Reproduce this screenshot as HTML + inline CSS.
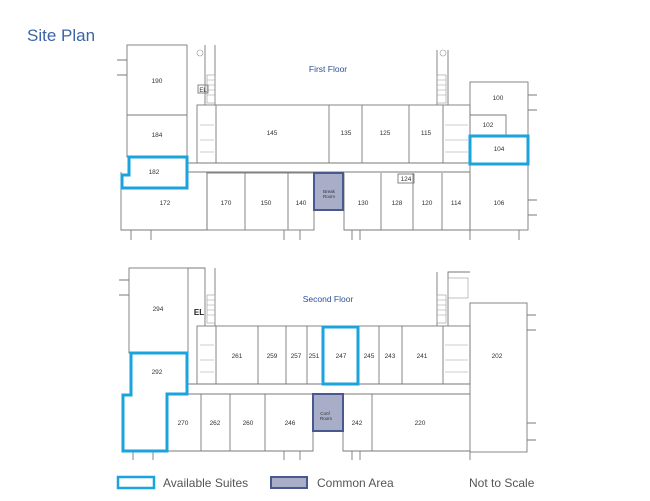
<!DOCTYPE html>
<html><head><meta charset="utf-8"><style>
html,body{margin:0;padding:0;background:#fff;}
svg{display:block;font-family:"Liberation Sans",sans-serif;}
.w{fill:none;stroke:#7a7a7a;stroke-width:0.9}
.d{fill:none;stroke:#999;stroke-width:0.6}
.t{font-size:6.5px;fill:#333;text-anchor:middle}
.b{fill:none;stroke:#1ba3dc;stroke-width:3}
.c{fill:#a8adc8;stroke:#4a5890;stroke-width:2}
</style></head><body>
<svg width="650" height="501" viewBox="0 0 650 501">
<text x="27" y="41" font-size="17" fill="#3d64a6">Site Plan</text>

<!-- FIRST FLOOR -->
<g class="w">
<rect x="127" y="45" width="60" height="112"/>
<line x1="127" y1="115" x2="187" y2="115"/>
<path d="M121 172 V230 H207 V172"/>
<rect x="197" y="105" width="273" height="58"/>
<line x1="216" y1="105" x2="216" y2="163"/>
<line x1="329" y1="105" x2="329" y2="163"/>
<line x1="362" y1="105" x2="362" y2="163"/>
<line x1="409" y1="105" x2="409" y2="163"/>
<line x1="443" y1="105" x2="443" y2="163"/>
<rect x="207" y="173" width="107" height="57"/>
<line x1="245" y1="173" x2="245" y2="230"/>
<line x1="288" y1="173" x2="288" y2="230"/>
<path d="M344 173 V230 H470 V173"/>
<line x1="381" y1="173" x2="381" y2="230"/>
<line x1="413" y1="173" x2="413" y2="230"/>
<line x1="442" y1="173" x2="442" y2="230"/>
<rect x="470" y="82" width="58" height="148"/>
<path d="M470 115 H506 V135"/>
<line x1="187" y1="163" x2="470" y2="163"/>
<line x1="187" y1="172" x2="470" y2="172"/>
<path d="M205 105 V45 M215 105 V45 M437 105 V50 M448 105 V50"/>
<path d="M131 230 V240 M151 230 V240 M284 230 V240 M300 230 V240 M352 230 V240 M360 230 V240 M470 230 V240 M519 230 V240 M528 95 H537 M528 110 H537 M528 200 H537 M528 215 H537 M117 60 H127 M117 75 H127"/>
<rect x="198" y="85" width="10" height="8"/>
<rect x="398" y="174" width="16" height="9"/>
</g>
<g class="d">
<rect x="207" y="75" width="8" height="28"/><path d="M207 80 H215 M207 85 H215 M207 90 H215 M207 95 H215"/>
<rect x="437" y="75" width="9" height="28"/><path d="M437 80 H446 M437 85 H446 M437 90 H446 M437 95 H446"/>
<path d="M200 125 H214 M200 140 H214 M200 152 H214 M445 125 H468 M445 140 H468 M445 152 H468"/>
<circle cx="200" cy="53" r="3"/><circle cx="443" cy="53" r="3"/>
</g>
<text x="328" y="72" font-size="8.5" fill="#2f4f95" text-anchor="middle">First Floor</text>
<text x="203" y="92" font-size="6" fill="#333" text-anchor="middle">EL</text>
<g class="t">
<text x="157" y="83">190</text><text x="157" y="137">184</text><text x="154" y="174">182</text>
<text x="165" y="205">172</text><text x="272" y="135">145</text><text x="346" y="135">135</text>
<text x="385" y="135">125</text><text x="426" y="135">115</text>
<text x="226" y="205">170</text><text x="266" y="205">150</text><text x="301" y="205">140</text>
<text x="363" y="205">130</text><text x="397" y="205">128</text><text x="427" y="205">120</text>
<text x="456" y="205">114</text><text x="499" y="205">106</text>
<text x="498" y="100">100</text><text x="488" y="127">102</text><text x="499" y="151">104</text>
<text x="406" y="181">124</text>
</g>
<rect class="c" x="314" y="173" width="29" height="37"/>
<text x="329" y="193" font-size="4.5" fill="#333" text-anchor="middle">Break</text>
<text x="329" y="198" font-size="4.5" fill="#333" text-anchor="middle">Room</text>
<path class="b" d="M129 157 H187 V188 H122 V175 H129 Z"/>
<rect class="b" x="470" y="136" width="58" height="28"/>

<!-- SECOND FLOOR -->
<g class="w">
<rect x="129" y="268" width="59" height="85"/>
<rect x="197" y="326" width="273" height="58"/>
<line x1="216" y1="326" x2="216" y2="384"/>
<line x1="258" y1="326" x2="258" y2="384"/>
<line x1="286" y1="326" x2="286" y2="384"/>
<line x1="307" y1="326" x2="307" y2="384"/>
<line x1="358" y1="326" x2="358" y2="384"/>
<line x1="379" y1="326" x2="379" y2="384"/>
<line x1="402" y1="326" x2="402" y2="384"/>
<line x1="443" y1="326" x2="443" y2="384"/>
<line x1="187" y1="384" x2="470" y2="384"/>
<line x1="187" y1="394" x2="470" y2="394"/>
<path d="M167 451 H313 V394"/>
<line x1="201" y1="394" x2="201" y2="451"/>
<line x1="230" y1="394" x2="230" y2="451"/>
<line x1="265" y1="394" x2="265" y2="451"/>
<path d="M343 394 V451 H470"/>
<line x1="372" y1="394" x2="372" y2="451"/>
<rect x="470" y="303" width="57" height="149"/>
<path d="M205 326 V268 H188 M215 326 V268 M437 326 V272 M448 326 V272 H470"/>
<path d="M133 451 V460 M153 451 V460 M284 451 V460 M300 451 V460 M352 451 V460 M360 451 V460 M470 451 V460 M527 315 H536 M527 330 H536 M527 423 H536 M527 440 H536 M119 280 H129 M119 295 H129"/>
</g>
<g class="d">
<rect x="207" y="295" width="8" height="28"/><path d="M207 300 H215 M207 305 H215 M207 310 H215 M207 315 H215"/>
<rect x="437" y="295" width="9" height="28"/><path d="M437 300 H446 M437 305 H446 M437 310 H446 M437 315 H446"/>
<rect x="448" y="278" width="20" height="20"/>
<path d="M200 345 H214 M200 360 H214 M200 372 H214 M445 345 H468 M445 360 H468 M445 372 H468"/>
</g>
<text x="328" y="302" font-size="8.5" fill="#2f4f95" text-anchor="middle">Second Floor</text>
<text x="199" y="315" font-size="8" font-weight="bold" fill="#222" text-anchor="middle">EL</text>
<g class="t">
<text x="158" y="311">294</text><text x="157" y="374">292</text>
<text x="237" y="358">261</text><text x="272" y="358">259</text><text x="296" y="358">257</text>
<text x="314" y="358">251</text><text x="341" y="358">247</text><text x="369" y="358">245</text>
<text x="390" y="358">243</text><text x="422" y="358">241</text><text x="497" y="358">202</text>
<text x="183" y="425">270</text><text x="215" y="425">262</text><text x="248" y="425">260</text>
<text x="290" y="425">246</text><text x="357" y="425">242</text><text x="420" y="425">220</text>
</g>
<rect class="c" x="313" y="394" width="30" height="37"/>
<text x="325" y="415" font-size="4.5" fill="#333" text-anchor="middle">Conf</text>
<text x="326" y="420" font-size="4.5" fill="#333" text-anchor="middle">Room</text>
<path class="b" d="M131 353 H187 V394 H167 V451 H123 V395 H131 Z"/>
<rect class="b" x="323" y="327" width="35" height="57"/>

<!-- LEGEND -->
<rect x="118" y="477" width="36" height="11" fill="none" stroke="#1ba3dc" stroke-width="2.5"/>
<text x="163" y="487" font-size="12" fill="#555">Available Suites</text>
<rect x="271" y="477" width="36" height="11" fill="#a8adc8" stroke="#4a5890" stroke-width="2"/>
<text x="317" y="487" font-size="12" fill="#555">Common Area</text>
<text x="469" y="487" font-size="12" fill="#555">Not to Scale</text>
</svg>
</body></html>
